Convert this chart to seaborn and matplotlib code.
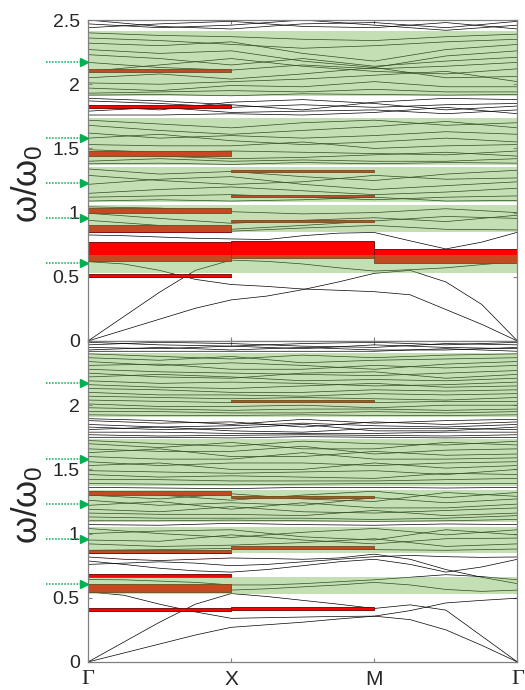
import numpy as np
import pandas as pd
import matplotlib
matplotlib.use("Agg")
import matplotlib.pyplot as plt
import seaborn as sns

sns.set_theme(style="white")
plt.rcParams["font.family"] = ["Liberation Sans", "DejaVu Sans"]
plt.rcParams["mathtext.fontset"] = "custom"
plt.rcParams["mathtext.rm"] = "Liberation Sans"
plt.rcParams["mathtext.it"] = "Liberation Sans"
plt.rcParams["mathtext.bf"] = "Liberation Sans:bold"

# ---------------- data ----------------
K_LABELS = ["Γ", "X", "M", "Γ"]
K_TICKS = [0, 1, 2, 3]
Y_TICKS = [0, 0.5, 1, 1.5, 2, 2.5]
K_FINE = [0, .25, .5, .75, 1, 1.25, 1.5, 1.75, 2, 2.25, 2.5, 2.75, 3]
K_COARSE = [0, .5, 1, 1.5, 2, 2.5, 3]

# top panel: low-frequency bands (sampled on K_FINE)
TOP_LOW = [
    [0, .085, .17, .255, .32, .35, .40, .46, .527, .55, .46, .285, 0],
    [0, .19, .38, .55, .63, .62, .60, .57, .545, .555, .57, .595, .618],
    [.618, .60, .55, .48, .44, .425, .405, .395, .384, .36, .245, .13, 0],
    [.826, .82, .81, .80, .795, .79, .82, .84, .845, .78, .717, .77, .847],
]
# top panel: higher bands (sampled on K_COARSE)
TOP_HIGH = [
    # 0.85 - 1.06
    [1.045, 1.035, 1.007, 0.99, 1.00, 1.03, 1.00],
    [0.995, 0.955, 0.917, 0.94, 0.96, 0.93, 0.98],
    [0.94, 0.90, 0.87, 0.90, 0.935, 0.97, 0.955],
    [0.87, 0.86, 0.855, 0.88, 0.90, 0.87, 0.865],
    # 1.08 - 1.35
    [1.34, 1.30, 1.32, 1.28, 1.25, 1.30, 1.33],
    [1.29, 1.25, 1.22, 1.24, 1.29, 1.26, 1.27],
    [1.22, 1.26, 1.28, 1.22, 1.18, 1.21, 1.24],
    [1.15, 1.18, 1.20, 1.17, 1.14, 1.16, 1.19],
    [1.12, 1.13, 1.14, 1.12, 1.10, 1.12, 1.13],
    [1.09, 1.10, 1.09, 1.10, 1.12, 1.09, 1.095],
    # 1.37 - 1.74
    [1.72, 1.69, 1.66, 1.70, 1.72, 1.68, 1.70],
    [1.68, 1.64, 1.61, 1.64, 1.67, 1.71, 1.66],
    [1.62, 1.58, 1.60, 1.58, 1.60, 1.63, 1.61],
    [1.58, 1.61, 1.56, 1.53, 1.55, 1.58, 1.55],
    [1.53, 1.52, 1.52, 1.55, 1.50, 1.52, 1.53],
    [1.49, 1.47, 1.48, 1.47, 1.46, 1.45, 1.48],
    [1.45, 1.44, 1.42, 1.43, 1.45, 1.47, 1.44],
    [1.40, 1.42, 1.40, 1.41, 1.40, 1.40, 1.42],
    [1.38, 1.385, 1.375, 1.39, 1.38, 1.39, 1.385],
    # 1.74 - 1.90
    [1.89, 1.87, 1.84, 1.80, 1.86, 1.89, 1.88],
    [1.87, 1.85, 1.82, 1.84, 1.82, 1.84, 1.85],
    [1.83, 1.80, 1.86, 1.88, 1.85, 1.80, 1.83],
    [1.79, 1.82, 1.78, 1.79, 1.80, 1.77, 1.80],
    [1.76, 1.76, 1.77, 1.76, 1.78, 1.82, 1.77],
    # 1.90 - 2.41
    [2.40, 2.38, 2.37, 2.35, 2.34, 2.37, 2.39],
    [2.36, 2.34, 2.31, 2.28, 2.30, 2.33, 2.35],
    [2.32, 2.30, 2.33, 2.24, 2.18, 2.27, 2.31],
    [2.27, 2.24, 2.26, 2.18, 2.13, 2.22, 2.26],
    [2.23, 2.20, 2.15, 2.20, 2.14, 2.18, 2.21],
    [2.17, 2.13, 2.11, 2.15, 2.12, 2.14, 2.17],
    [2.10, 2.15, 2.20, 2.14, 2.10, 2.08, 2.12],
    [2.05, 2.08, 2.04, 2.08, 2.13, 2.05, 2.06],
    [2.01, 2.00, 2.02, 2.04, 2.07, 2.10, 2.02],
    [1.97, 1.95, 1.99, 1.98, 2.02, 1.98, 1.98],
    [1.93, 1.94, 1.95, 1.94, 1.96, 1.94, 1.94],
    [1.915, 1.92, 1.91, 1.925, 1.92, 1.915, 1.92],
    # 2.41 - 2.5
    [2.50, 2.45, 2.43, 2.47, 2.48, 2.44, 2.49],
    [2.44, 2.47, 2.49, 2.45, 2.44, 2.48, 2.43],
    [2.47, 2.44, 2.46, 2.50, 2.46, 2.42, 2.46],
]
TOP_BAR_SEG = [0, 0, 0, 0, 0, 0, 0, 1, 1, 1, 1, 2]
TOP_BAR_LO = [2.093, 1.815, 1.441, 0.999, 0.848, 0.623, 0.497, 1.319, 1.119, 0.924, 0.644, 0.605]
TOP_BAR_HI = [2.116, 1.836, 1.480, 1.038, 0.902, 0.774, 0.520, 1.334, 1.139, 0.942, 0.780, 0.714]
TOP_BAND_LO = [1.905, 1.371, 1.085, 0.847, 0.527]
TOP_BAND_HI = [2.414, 1.735, 1.355, 1.060, 0.670]

# bottom panel
BOT_LOW = [
    [0, .07, .14, .21, .27, .29, .31, .335, .357, .33, .25, .13, 0],
    [0, .155, .31, .45, .533, .51, .48, .45, .417, .445, .404, .202, 0],
    [.546, .52, .45, .39, .34, .345, .35, .355, .357, .40, .46, .48, .497],
    [.818, .80, .79, .80, .81, .806, .80, .81, .84, .80, .72, .66, .61],
    [.787, .76, .73, .71, .70, .72, .75, .78, .80, .76, .70, .74, .80],
    [.642, .64, .63, .62, .60, .60, .61, .625, .64, .66, .68, .665, .64],
    [.60, .60, .59, .575, .56, .57, .585, .60, .62, .60, .565, .55, .56],
    [.76, .77, .78, .77, .75, .76, .78, .80, .82, .83, .82, .815, .818],
]
BOT_HIGH = [
    # 0.85 - 1.06
    [1.04, 1.00, 0.97, 1.01, 1.04, 0.99, 1.03],
    [1.00, 1.02, 1.03, 0.975, 0.95, 1.03, 0.99],
    [0.95, 0.94, 0.99, 0.95, 0.92, 0.96, 0.965],
    [0.92, 0.90, 0.91, 0.93, 0.96, 0.90, 0.92],
    [0.87, 0.875, 0.885, 0.89, 0.875, 0.87, 0.88],
    [1.07, 1.065, 1.08, 1.07, 1.065, 1.075, 1.07],
    # 1.09 - 1.345
    [1.33, 1.30, 1.26, 1.30, 1.33, 1.28, 1.32],
    [1.30, 1.27, 1.31, 1.27, 1.25, 1.32, 1.29],
    [1.26, 1.22, 1.24, 1.22, 1.28, 1.24, 1.27],
    [1.22, 1.25, 1.19, 1.24, 1.20, 1.20, 1.23],
    [1.19, 1.17, 1.21, 1.17, 1.16, 1.18, 1.20],
    [1.16, 1.15, 1.15, 1.14, 1.18, 1.14, 1.16],
    [1.13, 1.12, 1.12, 1.12, 1.11, 1.12, 1.14],
    [1.10, 1.10, 1.105, 1.10, 1.095, 1.10, 1.11],
    [1.36, 1.355, 1.35, 1.36, 1.36, 1.355, 1.36],
    # 1.37 - 1.74
    [1.725, 1.70, 1.68, 1.72, 1.70, 1.69, 1.72],
    [1.70, 1.67, 1.71, 1.66, 1.66, 1.71, 1.69],
    [1.66, 1.64, 1.64, 1.68, 1.62, 1.65, 1.66],
    [1.63, 1.66, 1.60, 1.60, 1.64, 1.61, 1.62],
    [1.60, 1.58, 1.58, 1.63, 1.58, 1.58, 1.59],
    [1.56, 1.53, 1.55, 1.55, 1.53, 1.55, 1.56],
    [1.53, 1.55, 1.50, 1.50, 1.55, 1.51, 1.53],
    [1.49, 1.48, 1.47, 1.48, 1.49, 1.46, 1.50],
    [1.46, 1.44, 1.45, 1.44, 1.43, 1.47, 1.46],
    [1.42, 1.42, 1.41, 1.41, 1.41, 1.42, 1.43],
    [1.39, 1.385, 1.38, 1.385, 1.39, 1.39, 1.39],
    # 1.74 - 1.90
    [1.895, 1.88, 1.85, 1.89, 1.86, 1.88, 1.89],
    [1.88, 1.86, 1.87, 1.83, 1.87, 1.85, 1.87],
    [1.85, 1.83, 1.84, 1.86, 1.84, 1.83, 1.85],
    [1.83, 1.81, 1.82, 1.85, 1.80, 1.80, 1.83],
    [1.81, 1.83, 1.80, 1.79, 1.82, 1.82, 1.81],
    [1.79, 1.79, 1.78, 1.78, 1.78, 1.79, 1.79],
    [1.77, 1.76, 1.765, 1.77, 1.765, 1.76, 1.77],
    [1.75, 1.75, 1.745, 1.755, 1.75, 1.745, 1.75],
    # 1.90 - 2.41
    [2.40, 2.38, 2.36, 2.39, 2.37, 2.39, 2.40],
    [2.37, 2.35, 2.38, 2.33, 2.35, 2.36, 2.37],
    [2.34, 2.31, 2.33, 2.31, 2.28, 2.32, 2.34],
    [2.31, 2.32, 2.28, 2.28, 2.31, 2.29, 2.31],
    [2.28, 2.26, 2.25, 2.24, 2.23, 2.25, 2.27],
    [2.25, 2.22, 2.21, 2.25, 2.26, 2.21, 2.24],
    [2.22, 2.24, 2.22, 2.19, 2.20, 2.19, 2.21],
    [2.19, 2.17, 2.18, 2.17, 2.15, 2.16, 2.18],
    [2.16, 2.14, 2.13, 2.15, 2.17, 2.14, 2.15],
    [2.13, 2.12, 2.10, 2.10, 2.12, 2.11, 2.12],
    [2.10, 2.08, 2.08, 2.07, 2.09, 2.08, 2.09],
    [2.07, 2.06, 2.05, 2.06, 2.05, 2.04, 2.06],
    [2.04, 2.03, 2.02, 2.03, 2.02, 2.03, 2.03],
    [2.01, 1.99, 1.99, 2.00, 1.98, 2.00, 2.00],
    [1.98, 1.97, 1.96, 1.97, 1.97, 1.96, 1.97],
    [1.95, 1.95, 1.94, 1.94, 1.95, 1.94, 1.95],
    [1.925, 1.92, 1.92, 1.925, 1.92, 1.92, 1.925],
    # 2.41 - 2.5
    [2.49, 2.47, 2.46, 2.48, 2.49, 2.47, 2.49],
    [2.47, 2.49, 2.48, 2.46, 2.45, 2.48, 2.47],
    [2.45, 2.44, 2.46, 2.44, 2.47, 2.45, 2.44],
    [2.43, 2.45, 2.43, 2.45, 2.43, 2.43, 2.45],
    [2.42, 2.42, 2.42, 2.42, 2.42, 2.44, 2.42],
]
BOT_BAR_SEG = [0, 0, 0, 0, 0, 1, 1, 1, 1]
BOT_BAR_LO = [1.302, 0.852, 0.660, 0.546, 0.394, 2.024, 1.279, 0.883, 0.406]
BOT_BAR_HI = [1.328, 0.876, 0.685, 0.606, 0.419, 2.042, 1.289, 0.903, 0.427]
BOT_BAND_LO = [1.905, 1.369, 1.089, 0.847, 0.533]
BOT_BAND_HI = [2.410, 1.737, 1.343, 1.052, 0.660]

ARROW_Y = [2.175, 1.578, 1.228, 0.958, 0.604]

# ---------------- styles ----------------
GREEN = (117 / 255, 179 / 255, 79 / 255)
ARROW_GREEN = "#00b050"
SPINE = "#808080"


def bands_frame(low, high):
    rows = []
    bid = 0
    for vals in low:
        for k, w in zip(K_FINE, vals):
            rows.append((bid, k, w))
        bid += 1
    for vals in high:
        for k, w in zip(K_COARSE, vals):
            rows.append((bid, k, w))
        bid += 1
    return pd.DataFrame(rows, columns=["band", "k", "omega"])


def draw_panel(ax, low, high, seg, lo, hi, glo, ghi, bottom):
    df = bands_frame(low, high)
    sns.lineplot(data=df, x="k", y="omega", units="band", estimator=None,
                 sort=False, color="black", lw=0.5, ax=ax, legend=False, zorder=2)
    heights = [h - l for l, h in zip(lo, hi)]
    ax.bar(seg, heights, bottom=lo, width=1, align="edge", color="#ff0000",
           edgecolor="#6a0000", linewidth=0.6, zorder=3)
    for a, b in zip(glo, ghi):
        ax.axhspan(a, b, facecolor=GREEN, alpha=0.42, lw=0, zorder=4)
    # green arrows
    for y in ARROW_Y:
        ax.plot([-0.29, -0.045], [y, y], ls=(0, (1, 1)), lw=1.1,
                color=ARROW_GREEN, clip_on=False, zorder=6)
        ax.plot([-0.03], [y], marker=">", ms=6, color=ARROW_GREEN,
                mec=ARROW_GREEN, clip_on=False, zorder=6, ls="none")
    ax.set_xlim(0, 3)
    ax.set_ylim(0, 2.5)
    ax.set_xticks(K_TICKS)
    ax.set_yticks(Y_TICKS)
    ylabs = ["0", "0.5", "1", "1.5", "2", "2.5"]
    if bottom:
        ylabs[-1] = ""
    ax.set_yticklabels(ylabs, fontsize=14)
    if bottom:
        ax.set_xticklabels(K_LABELS, fontsize=15)
        for t in ax.get_xticklabels():
            if t.get_text() == "Γ":
                t.set_fontfamily("Liberation Serif")
                t.set_fontsize(16)
    else:
        ax.set_xticklabels([])
    ax.set_xlabel("")
    ax.set_ylabel(r"$\omega/\omega_0$", fontsize=25)
    ax.yaxis.set_label_coords(-0.10, 0.49)
    ax.tick_params(direction="in", length=3, width=0.8, color=SPINE,
                   top=True, right=True, left=True, bottom=True, pad=6)
    for s in ax.spines.values():
        s.set_color(SPINE)
        s.set_linewidth(0.9)
        s.set_zorder(5)


fig = plt.figure(figsize=(5.25, 6.9), dpi=100)
ax_top = fig.add_axes([0.1676, 0.5058, 0.8181, 0.4652])
ax_bot = fig.add_axes([0.1676, 0.0406, 0.8181, 0.4652])

draw_panel(ax_top, TOP_LOW, TOP_HIGH, TOP_BAR_SEG, TOP_BAR_LO, TOP_BAR_HI,
           TOP_BAND_LO, TOP_BAND_HI, bottom=False)
draw_panel(ax_bot, BOT_LOW, BOT_HIGH, BOT_BAR_SEG, BOT_BAR_LO, BOT_BAR_HI,
           BOT_BAND_LO, BOT_BAND_HI, bottom=True)

fig.savefig("out.png", dpi=100)
